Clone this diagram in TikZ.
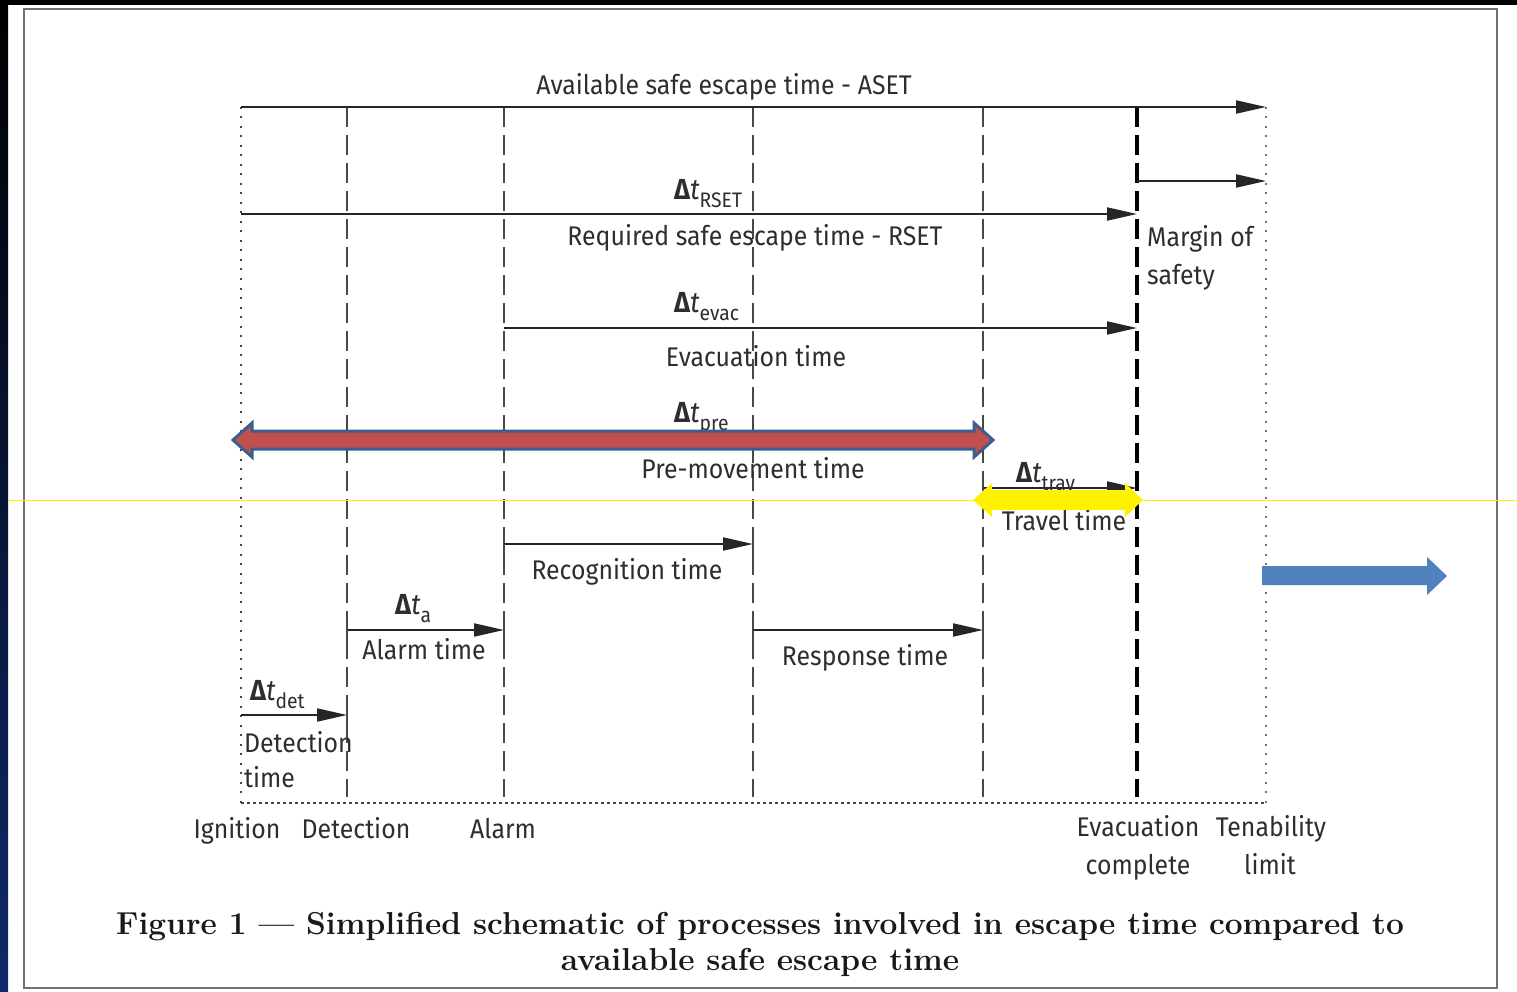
\documentclass[tikz,border=0pt]{standalone}
\usepackage{fontspec}
\usetikzlibrary{arrows.meta}
\newfontfamily\din[FakeStretch=0.92]{Fira Sans}
\definecolor{redf}{HTML}{C0504D}
\definecolor{blueo}{HTML}{3A5F8F}
\definecolor{bluef}{HTML}{4F81BD}
\definecolor{txt}{HTML}{2E2E2E}
\definecolor{framec}{HTML}{707070}
\definecolor{dline}{HTML}{484848}
\definecolor{navy}{HTML}{102A6A}
\newcommand\dt[1]{{\fontsize{29}{29}\selectfont\bfseries Δ\mdseries\itshape t}\raisebox{-8pt}{\fontsize{21}{21}\selectfont #1}}
\tikzset{
  lbl/.style={font=\din\fontsize{27}{32}\selectfont, text=txt, inner sep=0pt, anchor=base},
  lblw/.style={lbl, anchor=base west},
  arr/.style={draw=black!85, line width=2pt, -{Triangle[length=30pt,width=13pt]}},
  tickln/.style={draw=dline, line width=2pt},
  vdash/.style={draw=dline, line width=2pt, dash pattern=on 20pt off 8pt},
  vthick/.style={draw=black, line width=4pt, dash pattern=on 20pt off 8pt},
  vdot/.style={draw=dline, line width=2.2pt, dash pattern=on 2pt off 7.5pt},
  vdotl/.style={draw=black!55, line width=2.2pt, dash pattern=on 2pt off 7.5pt},
  hdot/.style={draw=dline, line width=1.6pt, dash pattern=on 3pt off 3pt},
  captxt/.style={font=\fontsize{31.7}{37}\selectfont\bfseries, text=black!90, inner sep=0pt, anchor=base},
}
\begin{document}
\begin{tikzpicture}[x=1pt,y=-1pt]
\useasboundingbox (0,0) rectangle (1517,992);
\fill[white] (0,0) rectangle (1517,992);
\fill[black] (0,0) rectangle (1517,5);
\shade[top color=black,bottom color=navy] (0,0) rectangle (8,992);
\draw[framec,line width=2.5pt] (24,9) rectangle (1497,988);

% vertical event lines
\coordinate (ig-t) at (241,107); \coordinate (ig-b) at (241,803);
\coordinate (de-t) at (347,107); \coordinate (de-b) at (347,797);
\coordinate (al-t) at (504,107); \coordinate (al-b) at (504,797);
\coordinate (rc-t) at (753,107); \coordinate (rc-b) at (753,797);
\coordinate (pm-t) at (983,107); \coordinate (pm-b) at (983,797);
\coordinate (ev-t) at (1137,107); \coordinate (ev-b) at (1137,797);
\coordinate (te-t) at (1266,107); \coordinate (te-b) at (1266,803);
\draw[vdot] (ig-t) -- (ig-b);
\draw[vdash] (de-t) -- (de-b);
\draw[vdash] (al-t) -- (al-b);
\draw[vdash] (rc-t) -- (rc-b);
\draw[vdash] (pm-t) -- (pm-b);
\draw[vthick] (ev-t) -- (ev-b);
\draw[vdotl] (te-t) -- (te-b);
\draw[hdot] (ig-b) -- (te-b);

% arrow end points
\coordinate (aset-s) at (241,107); \coordinate (aset-e) at (1266,107);
\coordinate (mar-s) at (1137,181); \coordinate (mar-e) at (1266,181);
\coordinate (rset-s) at (241,214); \coordinate (rset-e) at (1137,214);
\coordinate (evac-s) at (504,328); \coordinate (evac-e) at (1137,328);
\coordinate (pre-s) at (241,440); \coordinate (pre-e) at (983,440);
\coordinate (trav-s) at (983,488); \coordinate (trav-e) at (1137,488);
\coordinate (rec-s) at (504,544); \coordinate (rec-e) at (753,544);
\coordinate (ala-s) at (347,630); \coordinate (ala-e) at (504,630);
\coordinate (res-s) at (753,630); \coordinate (res-e) at (983,630);
\coordinate (det-s) at (241,715); \coordinate (det-e) at (347,715);

\draw[arr] (aset-s) -- (aset-e);
\draw[arr] (mar-s) -- (mar-e);
\draw[arr] (rset-s) -- (rset-e);
\draw[arr] (evac-s) -- (evac-e);
\draw[arr] (pre-s) -- (pre-e);
\draw[arr] (trav-s) -- (trav-e);
\draw[arr] (rec-s) -- (rec-e);
\draw[arr] (ala-s) -- (ala-e);
\draw[arr] (res-s) -- (res-e);
\draw[arr] (det-s) -- (det-e);

% small end ticks
\foreach \c in {rec-s,rec-e,ala-s,ala-e,res-s,res-e,det-e}
  \draw[tickln] (\c) -- ++(0,15);

% labels
\node[lbl] (tAset) at (724,95) {Available safe escape time - ASET};
\node[lblw] (dRset) at (674,200) {\dt{RSET}};
\node[lbl] (tRset) at (755,246) {Required safe escape time - RSET};
\node[lblw] (dEvac) at (674,312) {\dt{evac}};
\node[lbl] (tEvac) at (756,366) {Evacuation time};
\node[lblw] (dPre) at (674,422) {\dt{pre}};
\node[lbl] (tPre) at (753,478) {Pre-movement time};
\node[lblw] (dTrav) at (1016,482) {\dt{trav}};
\node[lbl] (tTrav) at (1064,530) {Travel time};
\node[lbl] (tRec) at (627,579) {Recognition time};
\node[lblw] (dA) at (395,614) {\dt{a}};
\node[lbl] (tAla) at (424,659) {Alarm time};
\node[lbl] (tRes) at (865,665) {Response time};
\node[lblw] (dDet) at (250,700) {\dt{det}};
\node[lblw] (tDet1) at (244,752) {Detection};
\node[lblw] (tDet2) at (244,787) {time};
\node[lblw] (tMar1) at (1147,247) {Margin of};
\node[lblw] (tMar2) at (1147,284) {safety};
\node[lbl] (bIgn) at (237,838) {Ignition};
\node[lbl] (bDet) at (356,838) {Detection};
\node[lbl] (bAla) at (503,838) {Alarm};
\node[lbl] (bEv1) at (1138,836) {Evacuation};
\node[lbl] (bEv2) at (1138,874) {complete};
\node[lbl] (bTe1) at (1271,836) {Tenability};
\node[lbl] (bTe2) at (1270,874) {limit};

% caption
\node[captxt] (cap1) at (760,934) {Figure 1 — Simplified schematic of processes involved in escape time compared to};
\node[captxt] (cap2) at (760,970) {available safe escape time};

% red double arrow (pre-movement)
\filldraw[fill=redf, draw=blueo, line width=3pt, line join=miter]
  (233,440) -- (252,423) -- (252,431) -- (974,431) -- (974,423) -- (993,440)
  -- (974,457) -- (974,449) -- (252,449) -- (252,457) -- cycle;

% thin yellow line
\draw[yellow, line width=1pt] (8,500) -- (1517,500);

% yellow double arrow (travel)
\fill[yellow] (973,500) -- (992,483) -- (992,490) -- (1125,490) -- (1125,483) -- (1143,500)
  -- (1125,517) -- (1125,510) -- (992,510) -- (992,517) -- cycle;

% blue arrow
\fill[bluef] (1262,566) -- (1427,566) -- (1427,557) -- (1447,576) -- (1427,595)
  -- (1427,585) -- (1262,585) -- cycle;
\end{tikzpicture}
\end{document}
